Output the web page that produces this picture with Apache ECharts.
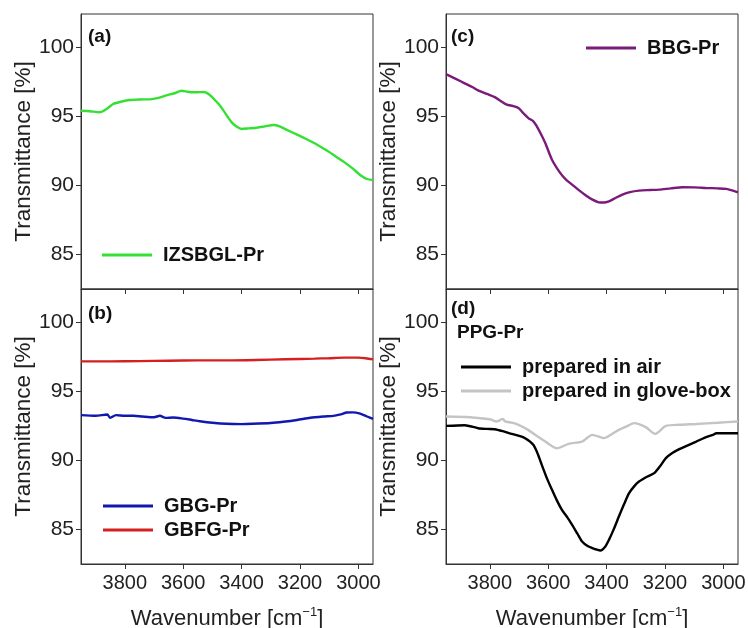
<!DOCTYPE html>
<html>
<head>
<meta charset="utf-8">
<script src="https://cdn.jsdelivr.net/npm/echarts@6/dist/echarts.min.js"></script>
<style>
  html, body { margin: 0; padding: 0; background: #fff; }
  #main { width: 748px; height: 628px; }
</style>
</head>
<body>
<div id="main"></div>
<script>
// tick labels
const xTicks = [3000, 3200, 3400, 3600, 3800];
const yTicks = [85, 90, 95, 100];

// (a) IZSBGL-Pr
const wnA = [3950, 3920, 3886, 3860, 3840, 3810, 3783, 3750, 3714, 3685, 3657, 3630, 3606, 3585, 3566, 3545, 3529, 3510, 3497, 3480, 3463, 3448, 3434, 3415, 3400, 3375, 3348, 3320, 3291, 3270, 3245, 3210, 3177, 3140, 3108, 3080, 3051, 3020, 2994, 2971, 2950];
const izsbgl = [95.38, 95.35, 95.27, 95.55, 95.87, 96.05, 96.16, 96.2, 96.21, 96.32, 96.5, 96.65, 96.83, 96.76, 96.72, 96.73, 96.74, 96.55, 96.28, 95.9, 95.43, 94.95, 94.54, 94.2, 94.06, 94.1, 94.15, 94.25, 94.35, 94.25, 93.99, 93.65, 93.31, 92.9, 92.49, 92.1, 91.69, 91.2, 90.72, 90.43, 90.36];

// (b) GBG-Pr and GBFG-Pr
const wnGbg = [3950, 3900, 3860, 3850, 3830, 3800, 3771, 3740, 3700, 3680, 3660, 3634, 3600, 3570, 3543, 3500, 3451, 3400, 3363, 3300, 3257, 3210, 3165, 3120, 3085, 3060, 3040, 3020, 2994, 2970, 2950];
const gbg = [93.25, 93.2, 93.3, 93.05, 93.25, 93.2, 93.2, 93.15, 93.1, 93.2, 93.05, 93.08, 93.0, 92.9, 92.81, 92.7, 92.62, 92.6, 92.62, 92.68, 92.77, 92.9, 93.06, 93.15, 93.2, 93.3, 93.44, 93.45, 93.36, 93.15, 92.98];
const wnGbfg = [3950, 3850, 3750, 3650, 3550, 3450, 3350, 3250, 3150, 3100, 3050, 3000, 2975, 2950];
const gbfg = [97.15, 97.15, 97.17, 97.2, 97.22, 97.22, 97.25, 97.3, 97.35, 97.38, 97.42, 97.42, 97.38, 97.3];

// (c) BBG-Pr
const wnC = [3950, 3898, 3860, 3840, 3810, 3783, 3760, 3742, 3720, 3702, 3685, 3668, 3650, 3639, 3625, 3610, 3587, 3559, 3540, 3518, 3495, 3472, 3450, 3427, 3410, 3392, 3370, 3346, 3320, 3289, 3250, 3220, 3180, 3139, 3100, 3059, 3020, 2990, 2970, 2950];
const bbg = [98.04, 97.5, 97.1, 96.86, 96.6, 96.37, 96.05, 95.82, 95.72, 95.58, 95.2, 94.85, 94.6, 94.25, 93.7, 93.04, 91.83, 90.87, 90.4, 90.02, 89.62, 89.25, 88.95, 88.74, 88.72, 88.81, 89.05, 89.3, 89.48, 89.59, 89.63, 89.66, 89.75, 89.83, 89.82, 89.78, 89.75, 89.71, 89.6, 89.46];

// (d) PPG-Pr
const wnAir = [3950, 3886, 3840, 3810, 3783, 3750, 3725, 3700, 3679, 3651, 3635, 3622, 3605, 3587, 3570, 3553, 3535, 3518, 3500, 3484, 3465, 3449, 3435, 3421, 3405, 3392, 3375, 3358, 3340, 3323, 3305, 3289, 3260, 3237, 3215, 3197, 3175, 3151, 3120, 3093, 3065, 3036, 3024, 2990, 2950];
const air = [92.47, 92.52, 92.3, 92.25, 92.23, 92.05, 91.89, 91.75, 91.58, 91.1, 90.4, 89.64, 88.7, 87.83, 87.05, 86.38, 85.85, 85.29, 84.65, 84.08, 83.75, 83.6, 83.5, 83.43, 83.7, 84.2, 85.0, 85.89, 86.8, 87.59, 88.1, 88.43, 88.8, 89.04, 89.6, 90.13, 90.5, 90.78, 91.08, 91.33, 91.6, 91.82, 91.94, 91.94, 91.94];
const wnGlove = [3950, 3869, 3800, 3777, 3755, 3748, 3725, 3702, 3670, 3645, 3610, 3570, 3530, 3484, 3449, 3409, 3380, 3358, 3330, 3306, 3266, 3234, 3197, 3150, 3093, 3020, 2950];
const glove = [93.15, 93.1, 92.95, 92.79, 92.98, 92.79, 92.7, 92.55, 92.2, 91.82, 91.33, 90.85, 91.17, 91.33, 91.82, 91.58, 91.9, 92.18, 92.45, 92.67, 92.38, 91.89, 92.47, 92.55, 92.61, 92.7, 92.79];

const font = 'Liberation Sans, Arial, sans-serif';
const axisColor = '#333';

const grids = [
  { left: 81, top: 14, width: 292, height: 275 },
  { left: 81, top: 289, width: 292, height: 275 },
  { left: 446, top: 14, width: 292, height: 275 },
  { left: 446, top: 289, width: 292, height: 275 }
].map(g => Object.assign(g, { show: true, borderColor: axisColor, borderWidth: 1, outerBoundsMode: 'none', containLabel: false }));

function xAxis(i, bottom) {
  return {
    type: 'value', gridIndex: i, min: 2950, max: 3950, inverse: true,
    splitLine: { show: false },
    axisLine: { onZero: false, lineStyle: { color: axisColor } },
    axisTick: { show: true, length: 5, customValues: xTicks, lineStyle: { color: axisColor } },
    axisLabel: {
      show: bottom, customValues: xTicks, color: '#222', fontSize: 20, fontFamily: font, margin: 9,
      formatter: v => String(v)
    },
    name: bottom ? '{n|Wavenumber [cm}{s|−1}{n|]}' : '',
    nameLocation: 'middle', nameGap: 42,
    nameTextStyle: {
      rich: {
        n: { fontSize: 22, fontFamily: font, color: '#222' },
        s: { fontSize: 13, fontFamily: font, color: '#222', padding: [0, 0, 12, 0] }
      }
    }
  };
}

function yAxis(i) {
  return {
    type: 'value', gridIndex: i, min: 82.45, max: 102.4,
    splitLine: { show: false },
    axisLine: { lineStyle: { color: axisColor } },
    axisTick: { show: true, length: 5, customValues: yTicks, lineStyle: { color: axisColor } },
    axisLabel: { customValues: yTicks, color: '#222', fontSize: 21, fontFamily: font, margin: 7, formatter: v => String(v) },
    name: 'Transmittance [%]', nameLocation: 'middle', nameGap: 40,
    nameTextStyle: { fontSize: 22.5, fontFamily: font, color: '#222' }
  };
}

function zip(xs, ys) { return xs.map((x, k) => [x, ys[k]]); }

function line(name, i, xs, ys, color) {
  return {
    name: name, type: 'line', xAxisIndex: i, yAxisIndex: i,
    data: zip(xs, ys), showSymbol: false, smooth: 0.25,
    lineStyle: { color: color, width: 2.4 }, itemStyle: { color: color },
    emphasis: { disabled: true }, animation: false
  };
}

const legendText = { fontSize: 20, fontWeight: 'bold', fontFamily: font, color: '#111', lineHeight: 20, padding: [0, 0, 0, 6] };
function legend(names, left, top) {
  return {
    data: names, left: left, top: top, orient: 'vertical', icon: 'rect',
    itemWidth: 50, itemHeight: 3, itemGap: 4, textStyle: legendText,
    selectedMode: false
  };
}

function label(text, left, top) {
  return { text: text, left: left, top: top, textStyle: { fontSize: 19, fontWeight: 'bold', fontFamily: font, color: '#111' } };
}

const chart = echarts.init(document.getElementById('main'));
chart.setOption({
  backgroundColor: '#fff',
  animation: false,
  title: [
    label('(a)', 83, 22),
    label('(b)', 83, 299),
    label('(c)', 446, 22),
    label('(d)', 446, 294),
    label('PPG-Pr', 452, 318)
  ],
  grid: grids,
  xAxis: [xAxis(0, false), xAxis(1, true), xAxis(2, false), xAxis(3, true)],
  yAxis: [yAxis(0), yAxis(1), yAxis(2), yAxis(3)],
  legend: [
    legend(['IZSBGL-Pr'], 97, 240),
    legend(['GBG-Pr', 'GBFG-Pr'], 98, 491),
    legend(['BBG-Pr'], 581, 33),
    legend(['prepared in air', 'prepared in glove-box'], 456, 352)
  ],
  series: [
    line('IZSBGL-Pr', 0, wnA, izsbgl, '#33e033'),
    line('GBG-Pr', 1, wnGbg, gbg, '#1018b0'),
    line('GBFG-Pr', 1, wnGbfg, gbfg, '#d42020'),
    line('BBG-Pr', 2, wnC, bbg, '#7a1a7a'),
    line('prepared in air', 3, wnAir, air, '#000000'),
    line('prepared in glove-box', 3, wnGlove, glove, '#c4c4c4')
  ]
});
</script>
</body>
</html>
